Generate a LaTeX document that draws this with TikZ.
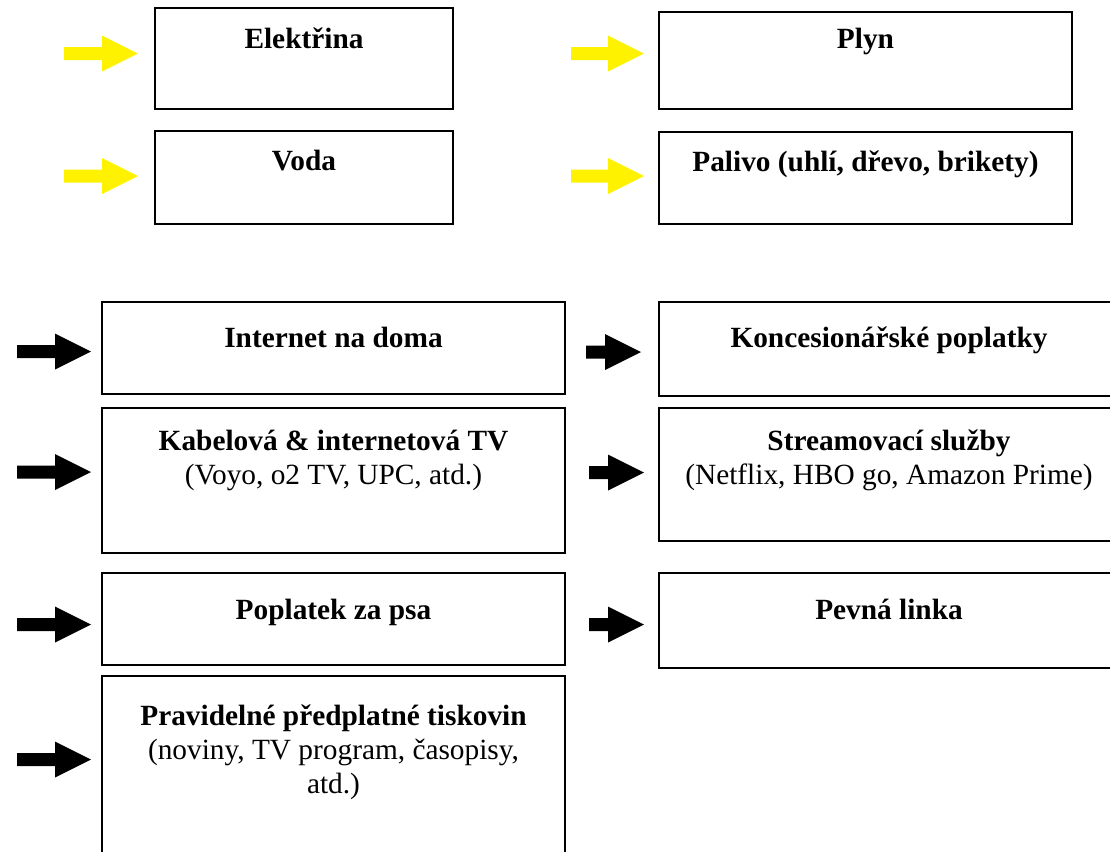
\documentclass[tikz,border=0pt]{standalone}
\usepackage{fontspec}
\setmainfont{Liberation Serif}
\begin{document}
\begin{tikzpicture}[x=0.75pt,y=-0.75pt,
  box/.style={draw=black,line width=1.5pt,rectangle,inner sep=0pt},
  txt/.style={align=center,inner sep=0pt,anchor=base,font=\fontsize{22}{25.5}\selectfont},
  pics/barrow/.style={code={\fill (0,-6.5) -- (#1,-6.5) -- (#1,-18) -- (#1+36,0) -- (#1,18) -- (#1,6.5) -- (0,6.5) -- cycle;}}]
\useasboundingbox (0,0) rectangle (1110,851);
\clip (0,0) rectangle (1110,851);
% top group boxes
\draw[box] (155,8) rectangle (453,109) coordinate (bE);
\draw[box] (659,12) rectangle (1072,109) coordinate (bP);
\draw[box] (155,131) rectangle (453,224) coordinate (bV);
\draw[box] (659,132) rectangle (1072,224) coordinate (bPa);
\node[txt] (tE) at (304,48) {\textbf{Elektřina}};
\node[txt] (tP) at (865.5,48) {\textbf{Plyn}};
\node[txt] (tV) at (304,170) {\textbf{Voda}};
\node[txt] (tPa) at (865.5,171) {\textbf{Palivo (uhlí, dřevo, brikety)}};
% yellow arrows
\pic[yellow] (aE) at (64,53.5) {barrow=38};
\pic[yellow] (aP) at (571,53.5) {barrow=37};
\pic[yellow] (aV) at (64,176) {barrow=38};
\pic[yellow] (aPa) at (571,176) {barrow=37};
% lower group boxes
\draw[box] (102,302) rectangle (565,394) coordinate (bI);
\draw[box] (659,302) rectangle (1125,396) coordinate (bK);
\draw[box] (102,408) rectangle (565,553) coordinate (bKa);
\draw[box] (659,408) rectangle (1125,541) coordinate (bS);
\draw[box] (102,573) rectangle (565,665) coordinate (bPo);
\draw[box] (659,573) rectangle (1125,668) coordinate (bPe);
\draw[box] (102,676) rectangle (565,880) coordinate (bPr);
\node[txt] (tI) at (333.5,347) {\textbf{Internet na doma}};
\node[txt] (tK) at (889,347) {\textbf{Koncesionářské poplatky}};
\node[txt] (tKa) at (333.5,484) {\textbf{Kabelová \& internetová TV}\\(Voyo, o2 TV, UPC, atd.)};
\node[txt] (tS) at (889,484) {\textbf{Streamovací služby}\\(Netflix, HBO go, Amazon Prime)};
\node[txt] (tPo) at (333.5,619) {\textbf{Poplatek za psa}};
\node[txt] (tPe) at (889,619) {\textbf{Pevná linka}};
\node[txt] (tPr) at (333.5,793) {\textbf{Pravidelné předplatné tiskovin}\\(noviny, TV program, časopisy,\\atd.)};
% black arrows
\pic[black] (aI) at (17,351.5) {barrow=38};
\pic[black] (aK) at (586,352) {barrow=19};
\pic[black] (aKa) at (17,472) {barrow=38};
\pic[black] (aS) at (589,472.5) {barrow=19};
\pic[black] (aPo) at (17,624.5) {barrow=38};
\pic[black] (aPe) at (589,624.5) {barrow=19};
\pic[black] (aPr) at (17,759.5) {barrow=38};
\end{tikzpicture}
\end{document}
